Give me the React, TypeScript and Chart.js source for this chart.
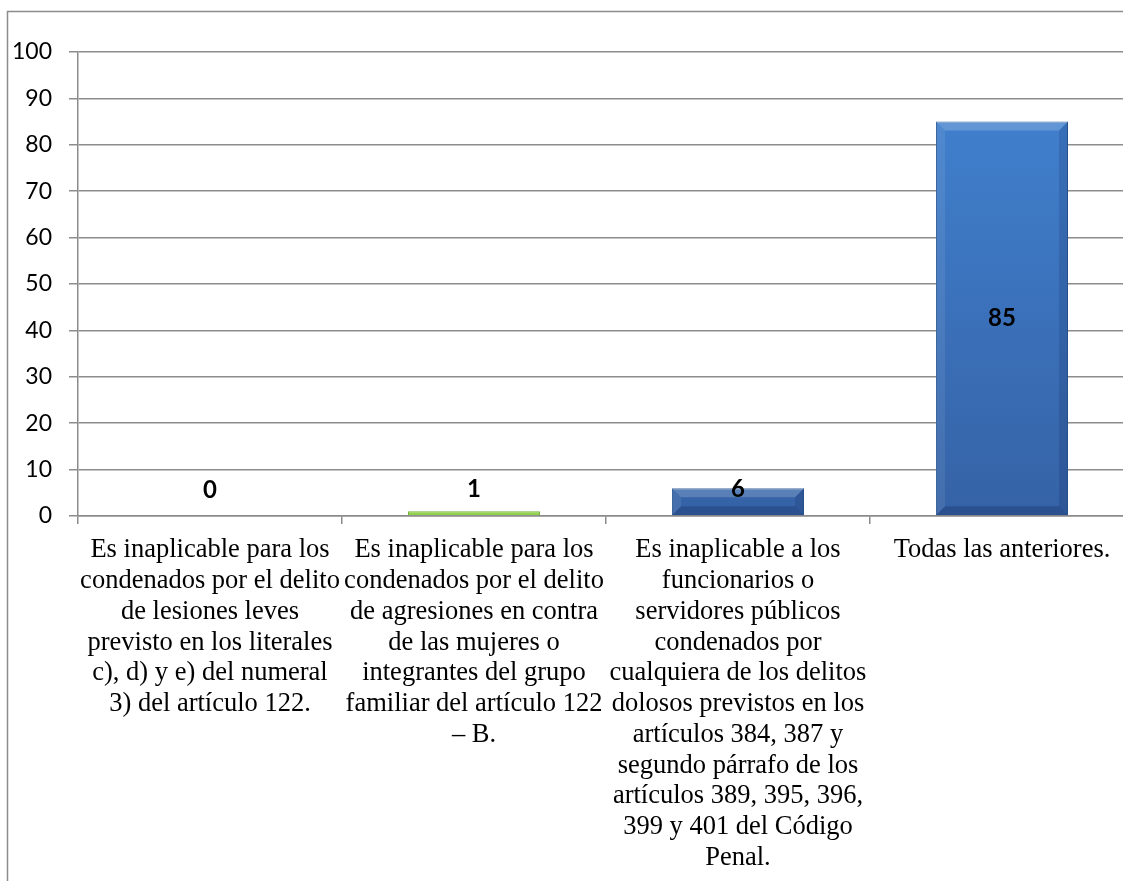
import React, { useEffect, useRef } from "react";
import { Chart, registerables } from "chart.js";

Chart.register(...registerables);

const categories: string[][] = [
  [
    "Es inaplicable para los",
    "condenados por el delito",
    "de lesiones leves",
    "previsto en los literales",
    "c), d) y e) del numeral",
    "3) del artículo 122.",
  ],
  [
    "Es inaplicable para los",
    "condenados por el delito",
    "de agresiones en contra",
    "de las mujeres o",
    "integrantes del grupo",
    "familiar del artículo 122",
    "– B.",
  ],
  [
    "Es inaplicable a los",
    "funcionarios o",
    "servidores públicos",
    "condenados por",
    "cualquiera de los delitos",
    "dolosos previstos en los",
    "artículos 384, 387 y",
    "segundo párrafo de los",
    "artículos 389, 395, 396,",
    "399 y 401 del Código",
    "Penal.",
  ],
  ["Todas las anteriores."],
];

const values: number[] = [0, 1, 6, 85];
const barKinds: string[] = ["blue", "green", "blue", "blue"];

const yMin = 0;
const yMax = 100;
const yStep = 10;

const CW = 1150;
const CH = 881;

const frame = {
  id: "frame",
  beforeDraw(chart: any) {
    const ctx = chart.ctx;
    ctx.save();
    ctx.fillStyle = "#ffffff";
    ctx.fillRect(0, 0, chart.width, chart.height);
    ctx.strokeStyle = "#8c8c8c";
    ctx.lineWidth = 1.5;
    ctx.beginPath();
    ctx.moveTo(7.5, chart.height + 2);
    ctx.lineTo(7.5, 11.5);
    ctx.lineTo(chart.width + 2, 11.5);
    ctx.stroke();
    ctx.restore();
  },
};

const barLabels = {
  id: "barLabels",
  afterDatasetsDraw(chart: any) {
    const ctx = chart.ctx;
    const meta = chart.getDatasetMeta(0);
    ctx.save();
    ctx.font = "bold 24px Lato";
    ctx.fillStyle = "#000000";
    ctx.textAlign = "center";
    ctx.textBaseline = "middle";
    meta.data.forEach((el: any, i: number) => {
      const v = values[i];
      const h = el.base - el.y;
      const y = h > 60 ? (el.y + el.base) / 2 : el.base - 26;
      ctx.fillText(String(v), el.x, y);
    });
    ctx.restore();
  },
};

const bevel = {
  id: "bevel",
  afterDatasetDraw(chart: any) {
    const ctx = chart.ctx;
    const meta = chart.getDatasetMeta(0);
    ctx.save();
    meta.data.forEach((el: any, i: number) => {
      if (barKinds[i] !== "blue") return;
      const h = el.base - el.y;
      if (h < 2) return;
      const l = el.x - el.width / 2;
      const r = el.x + el.width / 2;
      const t = el.y;
      const b = el.base;
      const d = Math.min(9, h / 2);
      ctx.fillStyle = "rgba(255,255,255,0.18)";
      ctx.beginPath();
      ctx.moveTo(l, t);
      ctx.lineTo(r, t);
      ctx.lineTo(r - d, t + d);
      ctx.lineTo(l + d, t + d);
      ctx.closePath();
      ctx.fill();
      ctx.fillStyle = "rgba(255,255,255,0.08)";
      ctx.beginPath();
      ctx.moveTo(l, t);
      ctx.lineTo(l + d, t + d);
      ctx.lineTo(l + d, b - d);
      ctx.lineTo(l, b);
      ctx.closePath();
      ctx.fill();
      ctx.fillStyle = "rgba(0,0,40,0.12)";
      ctx.beginPath();
      ctx.moveTo(r, t);
      ctx.lineTo(r, b);
      ctx.lineTo(r - d, b - d);
      ctx.lineTo(r - d, t + d);
      ctx.closePath();
      ctx.fill();
      ctx.fillStyle = "rgba(0,0,40,0.18)";
      ctx.beginPath();
      ctx.moveTo(l, b);
      ctx.lineTo(r, b);
      ctx.lineTo(r - d, b - d);
      ctx.lineTo(l + d, b - d);
      ctx.closePath();
      ctx.fill();
    });
    ctx.restore();
  },
};

export default function App() {
  const ref = useRef<HTMLCanvasElement | null>(null);

  useEffect(() => {
    if (!ref.current) return;
    const chart = new Chart(ref.current, {
      type: "bar",
      data: {
        labels: categories,
        datasets: [
          {
            data: values,
            backgroundColor: (c: any) => {
              const kind = barKinds[c.dataIndex];
              const area = c.chart.chartArea;
              if (kind === "green") return "#92d050";
              if (!area) return "#3f78c4";
              const g = c.chart.ctx.createLinearGradient(0, area.top, 0, area.bottom);
              g.addColorStop(0, "#4284d3");
              g.addColorStop(1, "#3562a6");
              return g;
            },
            borderColor: (c: any) =>
              barKinds[c.dataIndex] === "green" ? "#77b43a" : "#2d5a94",
            borderWidth: 1,
            barPercentage: 0.5,
            categoryPercentage: 1,
          },
        ],
      },
      options: {
        responsive: false,
        animation: false,
        layout: { padding: { left: 0, top: 52, right: CW - 1134, bottom: 0 } },
        plugins: {
          legend: { display: false },
          tooltip: { enabled: false },
          title: { display: false },
        },
        scales: {
          x: {
            afterFit: (s: any) => {
              s.height = CH - 516;
            },
            grid: {
              drawOnChartArea: false,
              drawTicks: true,
              tickLength: 8,
              color: "#8c8c8c",
              lineWidth: 1.5,
            },
            border: { color: "#8c8c8c", width: 1.5 },
            ticks: {
              autoSkip: false,
              maxRotation: 0,
              minRotation: 0,
              padding: 11,
              color: "#000000",
              font: { family: "'Liberation Serif', 'Times New Roman', serif", size: 26.5, lineHeight: 1.16 },
            },
          },
          y: {
            min: yMin,
            max: yMax,
            afterFit: (s: any) => {
              s.width = 78;
            },
            grid: {
              color: "#8c8c8c",
              lineWidth: 1.5,
              tickLength: 9,
            },
            border: { color: "#8c8c8c", width: 1.5 },
            ticks: {
              stepSize: yStep,
              padding: 17,
              color: "#000000",
              font: { family: "Lato, 'Liberation Sans', sans-serif", size: 23 },
            },
          },
        },
      },
      plugins: [frame, bevel, barLabels],
    });
    return () => chart.destroy();
  }, []);

  return (
    <div
      style={{
        position: "fixed",
        left: 0,
        top: 0,
        width: "1123px",
        height: "881px",
        overflow: "hidden",
        background: "#ffffff",
      }}
    >
      <canvas
        ref={ref}
        width={CW}
        height={CH}
        style={{ width: CW + "px", height: CH + "px", display: "block" }}
      />
    </div>
  );
}
